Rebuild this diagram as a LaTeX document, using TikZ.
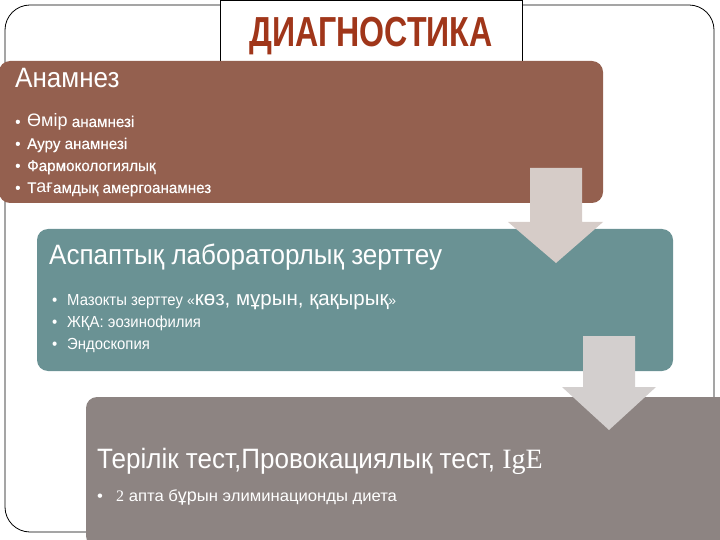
\documentclass[tikz,border=0pt]{standalone}
\usepackage{fontspec}
\setmainfont{Liberation Sans}
\newfontfamily\headfont[FakeStretch=0.93]{Liberation Sans}
\newfontfamily\itemfont[FakeStretch=0.98,FakeBold=0.4]{Liberation Sans}
\newfontfamily\itemfontB[FakeStretch=0.93]{Liberation Sans}
\newfontfamily\itemfontC[FakeStretch=1.04]{Liberation Sans}
\newfontfamily\titlefont[FakeStretch=0.765]{Liberation Sans Bold}
\newfontfamily\serifpart{Liberation Serif}
\definecolor{boxA}{HTML}{94604F}
\definecolor{boxB}{HTML}{6A9294}
\definecolor{boxC}{HTML}{8D8482}
\definecolor{arrA}{HTML}{D6CCC8}
\definecolor{arrB}{HTML}{D3CFCE}
\definecolor{titlered}{HTML}{A0361A}
\tikzset{
  panel/.style={inner sep=0pt, outer sep=0pt, anchor=north west, rounded corners=11pt},
  headtext/.style={inner sep=0pt, anchor=base west, text=white, font=\headfont\fontsize{28}{30}\selectfont},
  itemA/.style={inner sep=0pt, anchor=base west, text=white, font=\itemfont\fontsize{15.5}{18}\selectfont},
  itemB/.style={inner sep=0pt, anchor=base west, text=white, font=\itemfontB\fontsize{16}{18}\selectfont},
  itemC/.style={inner sep=0pt, anchor=base west, text=white, font=\itemfontC\fontsize{16}{18}\selectfont},
}
\newcommand{\bigpart}[2]{{\fontspec{Liberation Sans}\fontsize{#1}{#1}\selectfont #2}}
\begin{document}
\begin{tikzpicture}[x=1pt,y=-1pt]
\useasboundingbox (0,0) rectangle (720,540);
\clip (0,0) rectangle (720,540);
% outer frame
\draw[line width=0.8pt, rounded corners=25pt] (5,5) rectangle (714,532);
% title box
\node[draw=black, line width=0.8pt, fill=white, inner sep=0pt, anchor=north west,
      minimum width=302pt, minimum height=62pt] (titlebox) at (220,0) {};
\node[inner sep=0pt, anchor=base, text=titlered, font=\titlefont\fontsize{42}{44}\selectfont]
      (title) at (371,47) {ДИАГНОСТИКА};
% panels
\node[panel, fill=boxA, minimum width=604pt, minimum height=142pt] (p1) at (-1,61) {};
\node[panel, fill=boxB, minimum width=636pt, minimum height=142pt] (p2) at (37,229) {};
\node[panel, fill=boxC, minimum width=660pt, minimum height=150pt] (p3) at (86,397) {};
% panel 1 text
\node[headtext] (h1) at (15,88) {Анамнез};
\node[itemA] (d11) at (15,127) {•};
\node[itemA] (b11) at (27,127) {\bigpart{18}{Өмір} анамнезі};
\node[itemA] (d12) at (15,149) {•};
\node[itemA] (b12) at (27,149) {Ауру анамнезі};
\node[itemA] (d13) at (15,171) {•};
\node[itemA] (b13) at (27,171) {Фармокологиялық};
\node[itemA] (d14) at (15,193) {•};
\node[itemA] (b14) at (27,193) {Т\bigpart{18}{ағ}амдық амергоанамнез};
% panel 2 text
\node[headtext] (h2) at (49,264) {Аспаптық лабораторлық зерттеу};
\node[itemB] (d21) at (52,305) {•};
\node[itemB] (b21) at (67,305) {Мазокты зерттеу \bigpart{14}{«}\bigpart{20.5}{көз, мұрын, қақырық}\bigpart{14}{»}};
\node[itemB] (d22) at (52,327) {•};
\node[itemB] (b22) at (67,327) {ЖҚА: эозинофилия};
\node[itemB] (d23) at (52,349) {•};
\node[itemB] (b23) at (67,349) {Эндоскопия};
% panel 3 text
\node[headtext] (h3) at (97,468) {Терілік тест,Провокациялық тест, {\serifpart IgE}};
\node[itemC] (d31) at (97,501) {•};
\node[itemC] (b31) at (116,501) {{\serifpart 2} апта б\bigpart{18}{ұр}ын элиминационды диета};
% block arrows
\fill[arrA] (530,168) -- (582,168) -- (582,222) -- (603,222) -- (556,263) -- (508,222) -- (530,222) -- cycle;
\fill[arrB] (583,336) -- (635,336) -- (635,387) -- (656,387) -- (609,430) -- (562,387) -- (583,387) -- cycle;
\end{tikzpicture}
\end{document}
